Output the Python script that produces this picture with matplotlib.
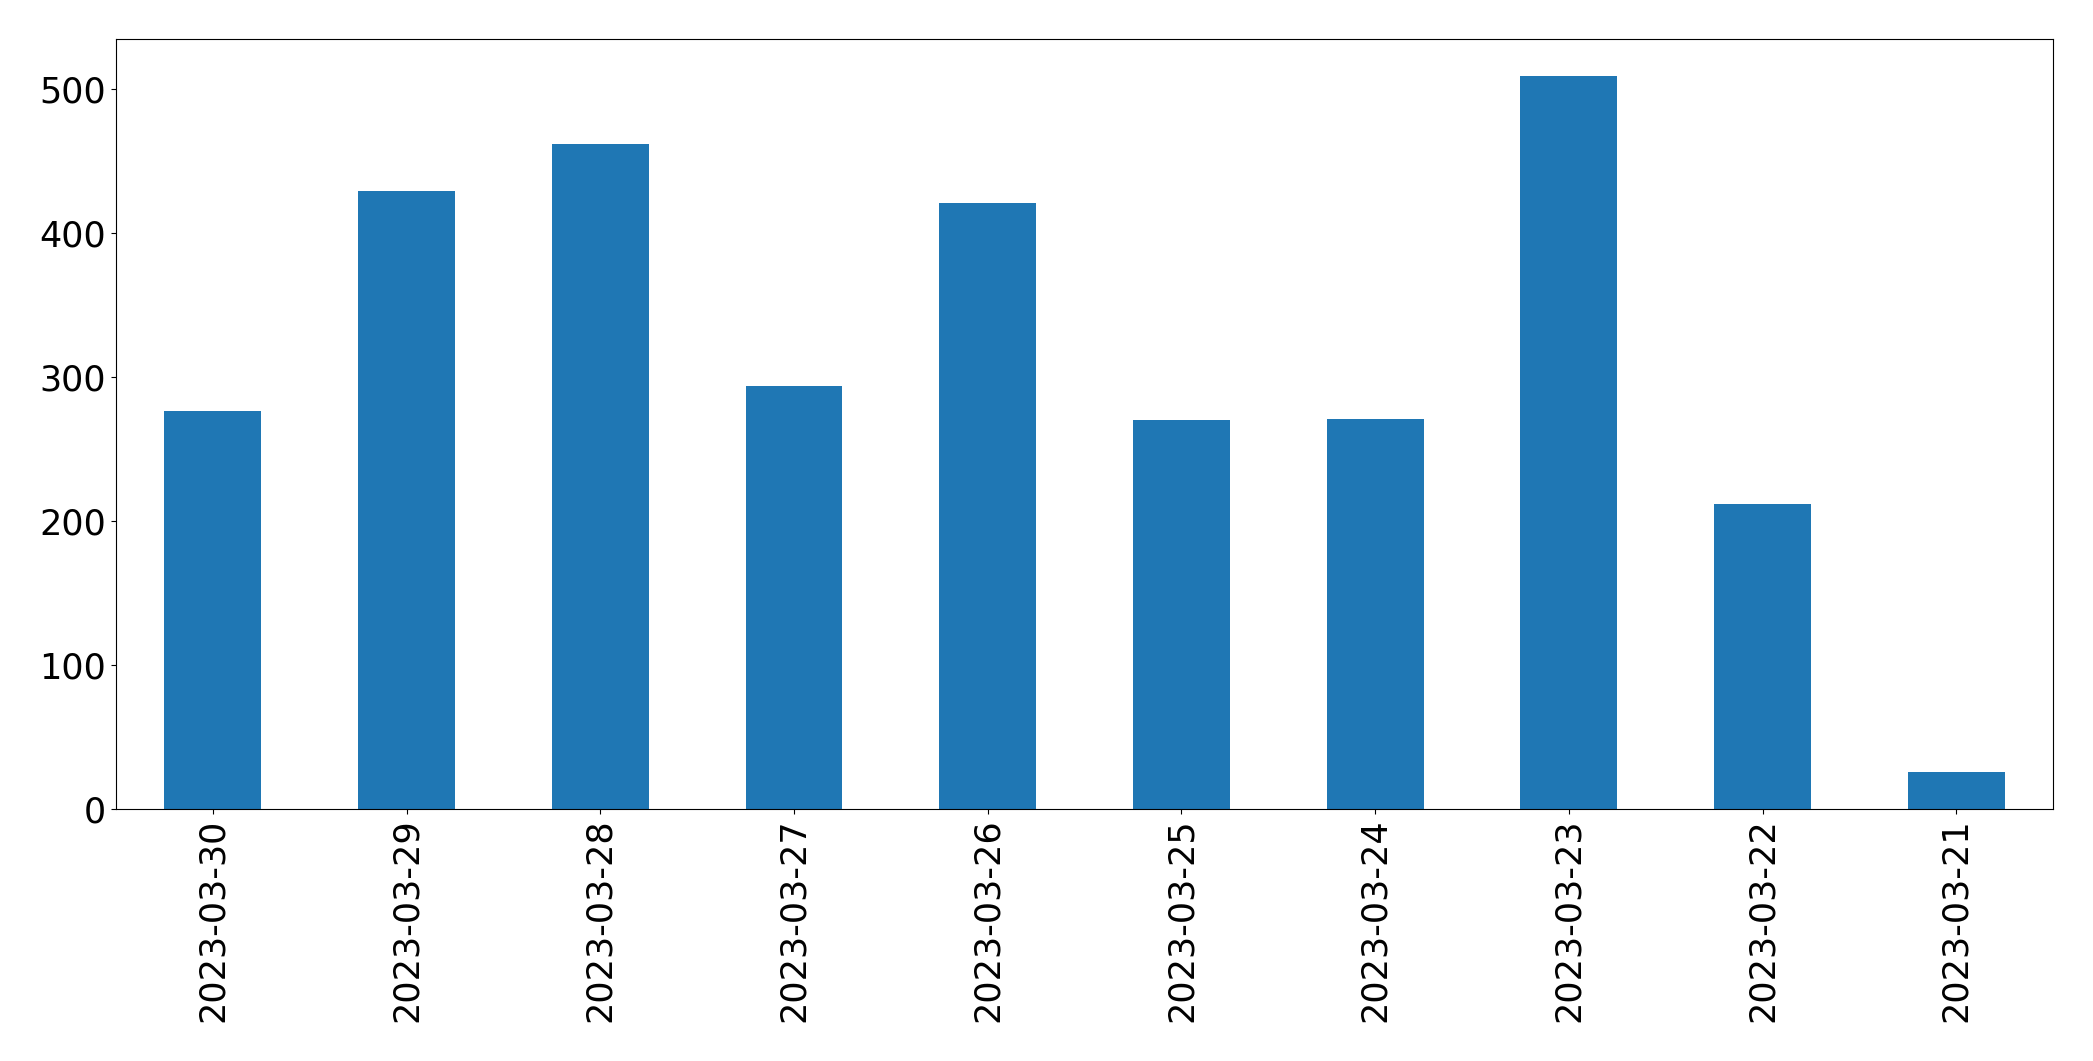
import pandas as pd
import matplotlib
matplotlib.use('Agg')
import matplotlib.pyplot as plt

# daily counts, newest first as in the reference
dates = ['2023-03-30', '2023-03-29', '2023-03-28', '2023-03-27', '2023-03-26',
         '2023-03-25', '2023-03-24', '2023-03-23', '2023-03-22', '2023-03-21']
counts = [276, 429, 462, 294, 421, 270, 271, 509, 212, 26]

s = pd.Series(counts, index=dates)

fig = plt.figure(figsize=(20.93, 10.61), dpi=100)
ax = fig.add_axes([0.0554, 0.2375, 0.9256, 0.7255])
s.plot(kind='bar', ax=ax, color='#1f77b4')
ax.tick_params(axis='both', labelsize=25.2)

fig.savefig('out.png', dpi=100)
